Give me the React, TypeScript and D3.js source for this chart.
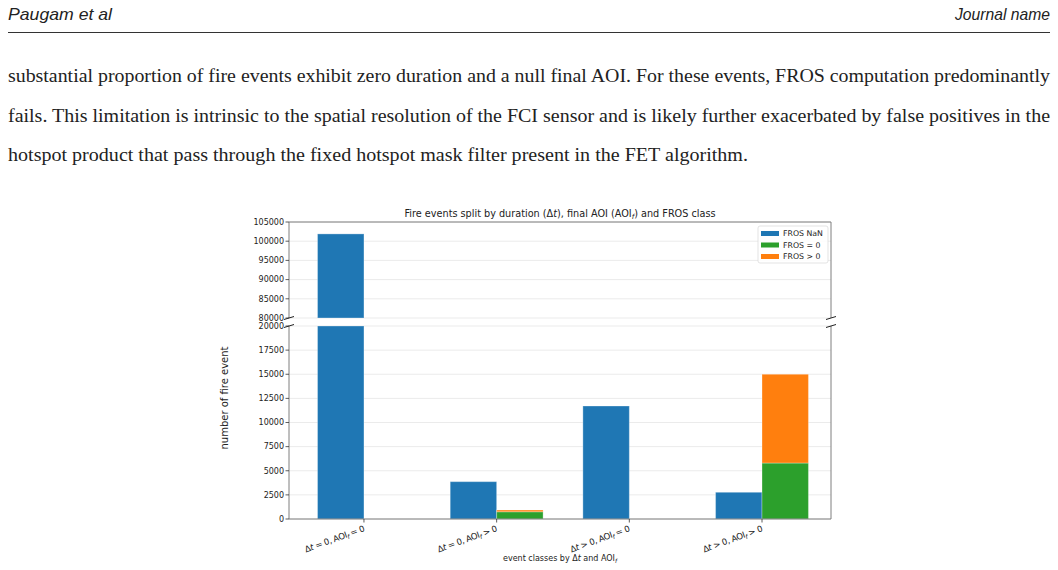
import { useEffect, useRef } from 'react';
import * as d3 from 'd3';

// event classes; {t} = italic, _{f} = italic subscript
const categories = [
  "Δ{t} = 0, AOI_{f} = 0",
  "Δ{t} = 0, AOI_{f} > 0",
  "Δ{t} > 0, AOI_{f} = 0",
  "Δ{t} > 0, AOI_{f} > 0",
];

const frosNaN = [101900, 3870, 11710, 2770];
const frosZero = [0, 750, 0, 5800];
const frosPos = [0, 180, 0, 9200];

const seriesNames = ["FROS NaN", "FROS = 0", "FROS > 0"];
const seriesColors = ["#1f77b4", "#2ca02c", "#ff7f0e"];

const topTicks = [80000, 85000, 90000, 95000, 100000, 105000];
const bottomTicks = [0, 2500, 5000, 7500, 10000, 12500, 15000, 17500, 20000];

const paragraph = [
  "substantial proportion of fire events exhibit zero duration and a null final AOI. For these events, FROS computation predominantly",
  "fails. This limitation is intrinsic to the spatial resolution of the FCI sensor and is likely further exacerbated by false positives in the",
  "hotspot product that pass through the fixed hotspot mask filter present in the FET algorithm.",
];
const paragraphWidths = [1042, 1042, 740];

const W = 1058;
const H = 570;
const FONT = "DejaVu Sans, sans-serif";

function rich(sel: any, s: string) {
  const parts = s.split(/(_\{[^}]*\}|\{[^}]*\})/).filter((p) => p);
  let shift = 0;
  parts.forEach((p) => {
    if (p.startsWith("_{")) {
      sel.append("tspan").attr("font-style", "italic").attr("font-size", "72%")
        .attr("dy", 2).text(p.slice(2, -1));
      shift = 2;
    } else {
      const t = sel.append("tspan").attr("dy", -shift);
      shift = 0;
      if (p.startsWith("{")) t.attr("font-style", "italic").text(p.slice(1, -1));
      else t.text(p);
    }
  });
}

export default function App() {
  const svgRef = useRef<SVGSVGElement>(null);

  useEffect(() => {
    if (!svgRef.current) return;
    const svg = d3.select(svgRef.current);
    svg.selectAll("*").remove();

    // page header
    const head = "Liberation Sans, Arial, sans-serif";
    svg.append("text").attr("x", 8).attr("y", 20)
      .attr("font-family", head).attr("font-style", "italic")
      .attr("font-size", 17).attr("fill", "#222")
      .attr("textLength", 104).attr("lengthAdjust", "spacingAndGlyphs").text("Paugam et al");
    svg.append("text").attr("x", 955).attr("y", 20)
      .attr("font-family", head).attr("font-style", "italic")
      .attr("font-size", 17).attr("fill", "#222")
      .attr("textLength", 95).attr("lengthAdjust", "spacingAndGlyphs").text("Journal name");
    svg.append("line").attr("x1", 8).attr("x2", 1050).attr("y1", 32.5).attr("y2", 32.5)
      .attr("stroke", "#333").attr("stroke-width", 1.2);

    // body text
    const baselines = [82, 122, 161];
    paragraph.forEach((line, i) => {
      svg.append("text").attr("x", 8).attr("y", baselines[i])
        .attr("font-family", "Liberation Serif, Times New Roman, serif")
        .attr("font-size", 18).attr("fill", "#222")
        .attr("textLength", paragraphWidths[i]).attr("lengthAdjust", "spacingAndGlyphs")
        .text(line);
    });

    // chart geometry
    const left = 289, right = 831;
    const topY0 = 222, topY1 = 318;
    const botY0 = 326, botY1 = 519;
    const barW = 0.35;

    const x = d3.scaleLinear().domain([-0.565, 3.52]).range([left, right]);
    const yTop = d3.scaleLinear().domain([80000, 105000]).range([topY1, topY0]);
    const yBot = d3.scaleLinear().domain([0, 20000]).range([botY1, botY0]);

    const chart = svg.append("g").attr("font-family", FONT);

    // grid
    chart.selectAll(".gt").data(topTicks).join("line")
      .attr("x1", left).attr("x2", right)
      .attr("y1", (d) => yTop(d)).attr("y2", (d) => yTop(d))
      .attr("stroke", "#ebebeb").attr("stroke-width", 1);
    chart.selectAll(".gb").data(bottomTicks).join("line")
      .attr("x1", left).attr("x2", right)
      .attr("y1", (d) => yBot(d)).attr("y2", (d) => yBot(d))
      .attr("stroke", "#ebebeb").attr("stroke-width", 1);

    const edge = "rgba(255,255,255,0.3)";

    // bars
    const bars = chart.append("g");
    categories.forEach((_, i) => {
      const nan = Math.min(frosNaN[i], 20000);
      bars.append("rect").attr("x", x(i - barW)).attr("width", x(i) - x(i - barW))
        .attr("y", yBot(nan)).attr("height", yBot(0) - yBot(nan))
        .attr("fill", seriesColors[0]).attr("stroke", edge);
      if (frosZero[i] > 0) {
        bars.append("rect").attr("x", x(i)).attr("width", x(i + barW) - x(i))
          .attr("y", yBot(frosZero[i])).attr("height", yBot(0) - yBot(frosZero[i]))
          .attr("fill", seriesColors[1]).attr("stroke", edge);
      }
      if (frosPos[i] > 0) {
        const base = frosZero[i];
        const topV = base + frosPos[i];
        bars.append("rect").attr("x", x(i)).attr("width", x(i + barW) - x(i))
          .attr("y", yBot(topV)).attr("height", yBot(base) - yBot(topV))
          .attr("fill", seriesColors[2]).attr("stroke", edge);
      }
      // upper panel part of tall bars
      if (frosNaN[i] > 80000) {
        bars.append("rect").attr("x", x(i - barW)).attr("width", x(i) - x(i - barW))
          .attr("y", yTop(frosNaN[i])).attr("height", yTop(80000) - yTop(frosNaN[i]))
          .attr("fill", seriesColors[0]).attr("stroke", edge);
      }
    });

    // spines
    const spine = "#7f7f7f";
    const sp = chart.append("g").attr("stroke", spine).attr("stroke-width", 1).attr("fill", "none");
    sp.append("path").attr("d", `M${left},${topY1}V${topY0}H${right}V${topY1}`);
    sp.append("path").attr("d", `M${left},${botY0}V${botY1}H${right}V${botY0}`);

    // break marks
    const brk = chart.append("g").attr("stroke", "#222").attr("stroke-width", 1);
    [left, right].forEach((sx) => {
      [topY1, botY0].forEach((sy) => {
        brk.append("line").attr("x1", sx - 5).attr("x2", sx + 5)
          .attr("y1", sy + 1.5).attr("y2", sy - 1.5);
      });
    });

    // y ticks
    const yt = chart.append("g").attr("font-size", 8).attr("fill", "#222");
    const tickLine = (y: number) => yt.append("line").attr("x1", left - 3.5).attr("x2", left)
      .attr("y1", y).attr("y2", y).attr("stroke", "#333").attr("stroke-width", 0.8);
    topTicks.forEach((d) => {
      tickLine(yTop(d));
      yt.append("text").attr("x", left - 5).attr("y", yTop(d)).attr("dy", "0.35em")
        .attr("text-anchor", "end").text(d);
    });
    bottomTicks.forEach((d) => {
      tickLine(yBot(d));
      yt.append("text").attr("x", left - 5).attr("y", yBot(d)).attr("dy", "0.35em")
        .attr("text-anchor", "end").text(d);
    });

    // x ticks + rotated labels
    const xt = chart.append("g").attr("font-size", 8.6).attr("fill", "#222");
    categories.forEach((c, i) => {
      xt.append("line").attr("x1", x(i)).attr("x2", x(i)).attr("y1", botY1).attr("y2", botY1 + 3.5)
        .attr("stroke", "#333").attr("stroke-width", 0.8);
      const t = xt.append("text").attr("text-anchor", "end").attr("letter-spacing", -0.35)
        .attr("transform", `translate(${x(i) + 1},${botY1 + 12}) rotate(-20)`);
      rich(t, c);
    });

    // axis labels and title
    chart.append("text").attr("font-size", 10).attr("fill", "#222")
      .attr("text-anchor", "middle")
      .attr("transform", `translate(228,398) rotate(-90)`)
      .text("number of fire event");

    const xl = chart.append("text").attr("font-size", 8).attr("fill", "#222")
      .attr("text-anchor", "middle").attr("x", (left + right) / 2).attr("y", 561);
    rich(xl, "event classes by Δ{t} and AOI_{f}");

    const title = chart.append("text").attr("font-size", 9.7).attr("fill", "#222")
      .attr("text-anchor", "middle").attr("x", (left + right) / 2).attr("y", 217);
    rich(title, "Fire events split by duration (Δ{t}), final AOI (AOI_{f}) and FROS class");

    // legend
    const lg = chart.append("g");
    lg.append("rect").attr("x", 758).attr("y", 226).attr("width", 70).attr("height", 37)
      .attr("rx", 2).attr("fill", "white").attr("fill-opacity", 0.85)
      .attr("stroke", "#dcdcdc").attr("stroke-width", 0.8);
    seriesNames.forEach((n, i) => {
      const cy = 233.5 + i * 11.5;
      lg.append("rect").attr("x", 761).attr("y", cy - 2.5).attr("width", 18).attr("height", 5)
        .attr("fill", seriesColors[i]);
      lg.append("text").attr("x", 783).attr("y", cy).attr("dy", "0.35em")
        .attr("font-size", 7.8).attr("fill", "#222").text(n);
    });
  }, []);

  return (
    <svg ref={svgRef} width={W} height={H}
      style={{ position: 'absolute', left: 0, top: 0, background: 'white' }} />
  );
}
